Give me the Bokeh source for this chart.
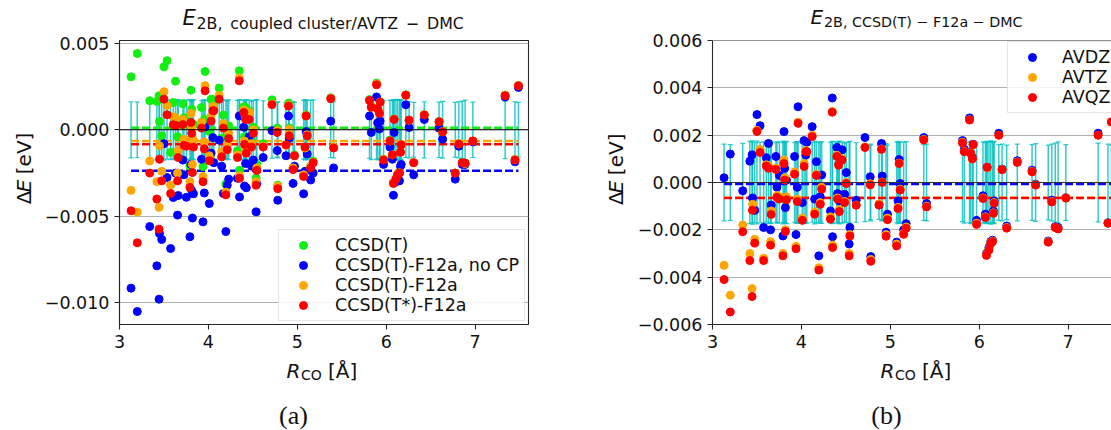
from math import pi
from bokeh.plotting import figure
from bokeh.models import (Range1d, FixedTicker, CustomJSTickFormatter, Span,
                          Legend, LegendItem)
from bokeh.core.properties import value
from bokeh.layouts import row, column
from bokeh.embed import file_html
from bokeh.resources import INLINE

# ---------------- data (energies in meV, converted to eV below) ----------------
R_CO = [3.13, 3.20, 3.34, 3.42, 3.445, 3.45, 3.475, 3.50, 3.535, 3.575,
        3.605, 3.63, 3.653, 3.66, 3.713, 3.725, 3.752, 3.792, 3.804, 3.812,
        3.82, 3.832, 3.923, 3.939, 3.954, 3.962, 4.01, 4.03, 4.05, 4.061,
        4.121, 4.149, 4.168, 4.196, 4.212, 4.228, 4.327, 4.347, 4.35, 4.398,
        4.406, 4.418, 4.426, 4.458, 4.485, 4.505, 4.537, 4.545, 4.616, 4.715,
        4.774, 4.78, 4.873, 4.901, 4.909, 4.952, 4.968, 5.071, 5.087, 5.099,
        5.111, 5.15, 5.178, 5.376, 5.408, 5.812, 5.832, 5.891, 5.903, 5.923,
        5.931, 5.97, 6.042, 6.069, 6.081, 6.089, 6.109, 6.129, 6.149, 6.16,
        6.168, 6.22, 6.257, 6.309, 6.428, 6.594, 6.634, 6.776, 6.816, 6.855,
        6.887, 6.974, 7.337, 7.448, 7.487]

dmc_err_meV = [1.62, 1.60, 1.65, 1.74, 1.70, 1.76, 1.68, 1.75, 1.70, 1.72,
               1.66, 1.73, 1.70, 1.74, 1.68, 1.72, 1.71, 1.75, 1.66, 1.72,
               1.70, 1.74, 1.68, 1.72, 1.73, 1.70, 1.66, 1.74, 1.70, 1.72,
               1.68, 1.75, 1.70, 1.72, 1.66, 1.73, 1.70, 1.72, 1.74, 1.68,
               1.72, 1.70, 1.75, 1.72, 1.66, 1.70, 1.72, 1.74, 1.68, 1.65,
               1.58, 1.62, 1.56, 1.62, 1.60, 1.64, 1.58, 1.70, 1.74, 1.68,
               1.72, 1.70, 1.73, 1.60, 1.62, 1.65, 1.72, 1.70, 1.74, 1.68,
               1.73, 1.70, 1.72, 1.68, 1.74, 1.70, 1.73, 1.76, 1.72, 1.70,
               1.74, 1.60, 1.62, 1.58, 1.62, 1.60, 1.64, 1.58, 1.62, 1.66,
               1.72, 1.60, 1.66, 1.62, 1.58]

ccsdt_avtz_meV = [3.06, 4.41, 1.68, 1.64, 1.97, 0.48, -0.35, 3.64, 3.99, -1.31,
                  1.58, 2.81, -0.4, 0.5, 1.5, 0.7, 0.5, -2.1, 2.29, 1.19,
                  -0.5, 0.3, 1.29, -2.12, 0.6, 3.37, -0.1, 1.77, 1.75, 1.5,
                  2.41, -0.5, 0.85, -3.14, -0.3, 0.23, -1.21, 3.41, -2.33, 1.33,
                  -0.4, 1.29, -0.9, 1.1, -0.6, 0.15, -2.79, -2.0, -0.8, 1.73,
                  0.1, -3.2, -0.85, 1.54, 0.1, -2.2, -1.45, -2.6, -1.0, 0.85,
                  -0.25, -2.1, -1.8, 1.85, -1.0, 1.75, 1.35, 2.7, 1.25, 1.0,
                  1.6, -1.7, -0.6, -1.45, -3.05, 0.62, -2.82, -2.55, -2.48, -1.28,
                  -0.85, 2.02, 0.55, -1.9, 0.88, 0.48, -0.1, -2.5, -0.8, -1.9,
                  -1.95, -0.65, 2.0, -1.72, 2.56]

f12a_nocp_meV = [-9.15, -10.5, -5.59, -7.86, -9.79, -5.99, -6.34, -0.8, -2.76, -6.86,
                 -3.91, -2.5, -4.93, -3.8, -1.75, -2.6, -3.9, -6.18, -2.0, -3.5,
                 -5.1, -3.7, -1.7, -5.32, -3.65, 0.17, -4.26, -1.35, -0.45, -1.9,
                 -0.6, -2.1, -3.68, -5.88, -3.2, -2.85, -2.8, 0.8, -3.88, 0.15,
                 -3.25, -1.95, -3.35, -0.4, -2.1, -1.75, -4.74, -3.1, -1.6, -0.05,
                 -1.2, -4.07, -1.5, 0.8, -0.5, -3.1, -2.1, -3.7, -2.4, -0.1,
                 -1.4, -2.9, -2.5, 0.5, -2.2, 0.8, -0.15, 1.9, 0.4, 0.05,
                 0.5, -2.0, -1.0, -1.7, -3.78, -0.15, -3.0, -2.9, -2.95, -2.1,
                 -2.0, 1.45, 0.13, -2.6, 0.6, 0.1, -0.54, -2.85, -0.95, -2.0,
                 -2.0, -0.7, 1.9, -1.85, 2.45]

f12a_avtz_meV = [-3.5, -4.76, -1.8, -3.0, -4.48, -0.92, -2.4, 2.2, 1.4, -3.2,
                 0.75, 0.7, -2.5, -1.2, 0.6, -0.55, -0.6, -3.0, 0.95, 0.2,
                 -2.0, -0.6, 0.45, -2.7, -0.7, 2.55, -1.5, 0.8, 1.35, 1.3,
                 2.0, -1.25, 0.35, -3.6, -0.85, -0.2, -1.45, 3.0, -2.65, 1.15,
                 -0.65, 0.75, -1.15, 1.0, -0.8, 0.0, -3.0, -2.2, -0.95, 1.5,
                 -0.05, -3.25, -0.9, 1.42, 0.02, -2.2, -1.5, -2.6, -1.05, 0.82,
                 -0.28, -2.15, -1.88, 1.82, -1.0, 1.7, 1.32, 2.65, 1.25, 1.0,
                 1.6, -1.72, -0.65, -1.45, -3.05, 0.62, -2.82, -2.55, -2.48, -1.28,
                 -0.85, 2.0, 0.55, -1.9, 0.87, 0.47, -0.1, -2.5, -0.8, -1.9,
                 -1.95, -0.65, 2.0, -1.72, 2.56]

f12a_tstar_meV = [-4.68, -6.53, -2.5, -4.0, -5.74, -1.7, -2.95, 1.77, 0.87, -3.68,
                  0.29, 0.25, -2.95, -1.6, 0.3, -0.9, -0.95, -3.33, 0.42, -0.2,
                  -2.47, -1.0, 0.1, -3.0, -1.1, 2.25, -1.79, 0.5, 1.1, 1.1,
                  1.77, -1.56, 0.1, -3.76, -1.15, -0.5, -1.6, 2.83, -2.8, 1.0,
                  -0.85, 0.6, -1.35, 0.6, -1.0, -0.2, -3.2, -2.35, -1.0, 1.45,
                  -0.15, -3.4, -0.87, 1.37, -0.35, -2.3, -1.5, -2.7, -1.0, 0.8,
                  -0.35, -2.2, -1.9, 1.8, -1.05, 1.7, 1.3, 2.6, 1.2, 0.95,
                  1.6, -1.75, -0.64, -1.45, -3.1, 0.6, -2.85, -2.6, -2.5, -1.3,
                  -0.87, 2.0, 0.56, -1.9, 0.85, 0.46, -0.12, -2.5, -0.83, -1.9,
                  -1.92, -0.64, 1.97, -1.75, 2.54]

f12a_avdz_meV = [0.2, 1.2, -0.35, 0.9, 1.17, -0.65, -1.17, 2.87, 2.4, -1.9,
                 1.05, 1.65, -2.0, -0.95, 1.1, -0.2, 0.3, -2.26, 2.15, 0.6,
                 -1.06, 0.1, 1.1, -2.2, -0.2, 3.2, -0.85, 1.77, 1.16, 1.7,
                 2.36, -0.7, 0.88, -3.1, -0.6, 0.32, -1.2, 3.57, -2.29, 1.48,
                 -0.47, 0.78, -0.78, 1.38, -0.5, 0.42, -2.6, -1.9, -0.75, 1.9,
                 0.24, -3.13, -0.95, 1.65, 0.27, -2.1, -1.34, -2.52, -0.78, 0.97,
                 -0.04, -2.0, -1.74, 1.9, -0.89, 1.77, 1.4, 2.73, 1.27, 1.06,
                 1.62, -1.6, -0.56, -1.34, -3.0, 0.64, -2.75, -2.5, -2.44, -1.2,
                 -0.78, 2.08, 0.57, -1.84, 0.92, 0.52, -0.07, -2.47, -0.75, -1.87,
                 -1.9, -0.64, 2.08, -1.7, 2.56]

f12a_avqz_meV = [-4.1, -5.47, -2.08, -3.3, -4.82, -1.17, -2.56, 2.16, 1.27, -3.3,
                 0.7, 0.6, -2.65, -1.35, 0.55, -0.63, -0.7, -3.1, 0.8, 0.1,
                 -2.07, -0.73, 0.35, -2.8, -0.8, 2.5, -1.6, 0.68, 1.3, 1.3,
                 1.94, -1.34, 0.3, -3.7, -0.92, -0.28, -1.55, 2.97, -2.75, 1.1,
                 -0.7, 0.73, -1.23, 0.95, -0.85, -0.04, -3.1, -2.26, -0.96, 1.48,
                 -0.1, -3.33, -0.95, 1.4, 0.0, -2.27, -1.57, -2.68, -1.1, 0.8,
                 -0.32, -2.19, -1.93, 1.8, -1.03, 1.67, 1.3, 2.64, 1.23, 1.0,
                 1.6, -1.77, -0.68, -1.48, -3.08, 0.64, -2.85, -2.58, -2.5, -1.3,
                 -0.88, 2.0, 0.54, -1.93, 0.85, 0.45, -0.11, -2.52, -0.82, -1.9,
                 -1.96, -0.66, 2.0, -1.72, 2.56]

# mean deviations (dashed lines), meV
left_labels = ["CCSD(T)", "CCSD(T)-F12a, no CP", "CCSD(T)-F12a", "CCSD(T*)-F12a"]
left_means_meV = [0.12, -2.37, -0.64, -0.83]
right_labels = ["AVDZ", "AVTZ", "AVQZ"]
right_means_meV = [-0.06, -0.64, -0.66]

x_ticks = [3, 4, 5, 6, 7]
left_y_ticks = [-0.010, -0.005, 0.0, 0.005]
right_y_ticks = [-0.006, -0.004, -0.002, 0.0, 0.002, 0.004, 0.006]

GREEN, BLUE, ORANGE, RED = "#11ee11", "#0000ff", "#ffa500", "#ff0000"
ERRC = "#00bfbf"
SPINE = "#262626"
FONT = "DejaVu Sans"
TXT = "#111111"


def ev(a):
    return [v * 1e-3 for v in a]


err = ev(dmc_err_meV)
neg_err = [-e for e in err]

# ---------------- layout geometry (page pixels) ----------------
PAGE_W, PAGE_H = 1111, 430
W1 = 560
W2 = PAGE_W - W1
FRAME_TOP, FRAME_H = 40, 284      # frame spans page y 40 .. 324
BELOW = 34                         # x-axis area under the frame
BOT_H = PAGE_H - FRAME_TOP - FRAME_H - BELOW
T1, T2 = 32, 30                    # title strip heights (rest of the 40 px is tick-label room)
YS1, YS2 = 36, 70                  # y-label strip widths
L_FRAME_LEFT, L_FRAME_W = 119, 409
R_FRAME_LEFT = 712
L_Y0, L_Y1 = -0.01125, 0.00516
R_Y0, R_Y1 = -0.006, 0.006
R_XEND = 3 + (PAGE_W - R_FRAME_LEFT) * 4.6 / L_FRAME_W

fmt = CustomJSTickFormatter(code="""
const s = Math.abs(tick).toFixed(3);
return (tick < -1e-12 ? '\u2212' : '') + s;
""")


def make_fig(width, top_h, bl, br, x_end, y0, y1, yticks):
    height = PAGE_H - top_h - BOT_H
    p = figure(width=width, height=height, output_backend="svg", toolbar_location=None,
               x_range=Range1d(3, x_end), y_range=Range1d(y0, y1),
               min_border_left=bl, min_border_right=br,
               min_border_top=FRAME_TOP - top_h, min_border_bottom=BELOW)
    if p.title is not None:
        p.title.visible = False
    p.background_fill_color = "white"
    p.border_fill_color = "white"
    p.xgrid.visible = False
    p.ygrid.grid_line_color = "#b0b0b0"
    p.ygrid.grid_line_width = 1
    p.xaxis.ticker = FixedTicker(ticks=x_ticks)
    p.yaxis.ticker = FixedTicker(ticks=yticks)
    p.yaxis.formatter = fmt
    for ax in (p.xaxis[0], p.yaxis[0]):
        ax.axis_line_color = SPINE
        ax.axis_line_width = 1.1
        ax.major_tick_line_color = SPINE
        ax.major_tick_line_width = 1.1
        ax.major_tick_out = 5
        ax.major_tick_in = 0
        ax.minor_tick_line_color = None
        ax.major_label_text_font = FONT
        ax.major_label_text_font_size = "17.5px"
        ax.major_label_text_color = TXT
        ax.major_label_standoff = 5
    return p


ORIGINS = {}


def strip(w, h, page_x, page_y):
    s = figure(width=w, height=h, output_backend="svg", toolbar_location=None,
               x_range=Range1d(0, w), y_range=Range1d(0, h),
               x_axis_type=None, y_axis_type=None, min_border=0)
    if s.title is not None:
        s.title.visible = False
    s.outline_line_color = None
    s.background_fill_color = "white"
    s.border_fill_color = "white"
    ORIGINS[s.id] = (page_x, page_y, h)
    return s


def put(s, px, py, text, size, style="normal", align="left", angle=0.0, font=FONT):
    """Place a text whose vertical middle sits at page pixel (px, py)."""
    ox, oy, h = ORIGINS[s.id]
    s.text(x=[px - ox], y=[h - (py - oy)], text=[text], text_font=value(font),
           text_font_size=value(size), text_font_style=value(style),
           text_align=value(align), text_baseline=value("middle"),
           angle=angle, text_color=TXT)


def errorbars(p):
    p.segment(x0=R_CO, y0=neg_err, x1=R_CO, y1=err, line_color=ERRC,
              line_alpha=0.8, line_width=1.5)
    p.scatter(x=R_CO + R_CO, y=err + neg_err, marker="dash", size=5,
              line_color=ERRC, line_alpha=0.8, line_width=1.2)


def zero_line(p, color):
    p.add_layout(Span(location=0, dimension="width", line_color=color,
                      line_width=1.1, level="glyph"))


def legend(items, location, margin, standoff):
    return Legend(items=items, location=location, margin=margin, padding=5, spacing=0,
                  label_height=20, glyph_height=20, glyph_width=38,
                  label_standoff=standoff,
                  label_text_font=FONT, label_text_font_size="17.5px",
                  label_text_color=TXT,
                  border_line_color="#cccccc", border_line_width=1,
                  background_fill_color="white", background_fill_alpha=0.85)


# ======================= left panel =======================
p1 = make_fig(W1 - YS1, T1, L_FRAME_LEFT - YS1, W1 - L_FRAME_LEFT - L_FRAME_W, 7.6,
              L_Y0, L_Y1, left_y_ticks)
p1.outline_line_color = SPINE
p1.outline_line_width = 1.1
errorbars(p1)
zero_line(p1, "black")
left_series = [ccsdt_avtz_meV, f12a_nocp_meV, f12a_avtz_meV, f12a_tstar_meV]
left_colors = [GREEN, BLUE, ORANGE, RED]
for m, c in zip(left_means_meV, left_colors):
    p1.line(x=[R_CO[0], R_CO[-1]], y=[m * 1e-3, m * 1e-3], line_color=c,
            line_width=2.5, line_dash="8 3")
items = []
for s, c, lab in zip(left_series, left_colors, left_labels):
    r = p1.scatter(x=R_CO, y=ev(s), size=8, fill_color=c, line_color=c)
    items.append(LegendItem(label=lab, renderers=[r]))
p1.add_layout(legend(items, "bottom_right", 3, 13))

t1 = strip(W1, T1, 0, 0)
put(t1, 182, 17.9, "E", "21px", style="italic")
put(t1, 196, 22.6, "2B,\u2002coupled cluster/AVTZ\u2002\u2212\u2002DMC", "15.8px")

y1s = strip(YS1, PAGE_H - T1 - BOT_H, 0, T1)
put(y1s, 23.6, 220, "\u0394", "20px", angle=pi / 2)
put(y1s, 23.6, 206.3, "E", "20px", style="italic", angle=pi / 2)
put(y1s, 23.6, 185.5, "[eV]", "20px", angle=pi / 2)

b1 = strip(W1, BOT_H, 0, PAGE_H - BOT_H)
put(b1, 286, 370, "R", "20px", style="italic")
put(b1, 300.5, 374.5, "CO", "14px")
put(b1, 327.5, 370, "[\u00c5]", "20px")
put(b1, 293, 415, "(a)", "26px", align="center", font="Liberation Serif")

# ======================= right panel =======================
p2 = make_fig(W2 - YS2, T2, R_FRAME_LEFT - W1 - YS2, 0, R_XEND, R_Y0, R_Y1, right_y_ticks)
p2.outline_line_color = None
p2.add_layout(Span(location=R_Y1, dimension="width", line_color=SPINE, line_width=1.1))
errorbars(p2)
zero_line(p2, "#333333")
right_series = [f12a_avdz_meV, f12a_avtz_meV, f12a_avqz_meV]
right_colors = [BLUE, ORANGE, RED]
for m, c in zip(right_means_meV, right_colors):
    p2.line(x=[R_CO[0], R_CO[-1]], y=[m * 1e-3, m * 1e-3], line_color=c,
            line_width=2.5, line_dash="8 3")
items2 = []
for s, c, lab in zip(right_series, right_colors, right_labels):
    r = p2.scatter(x=R_CO, y=ev(s), size=8, fill_color=c, line_color=c)
    items2.append(LegendItem(label=lab, renderers=[r]))
p2.add_layout(legend(items2, (1007 - R_FRAME_LEFT, 324 - 113), 0, 11))

t2 = strip(W2, T2, W1, 0)
put(t2, 810, 16.8, "E", "20px", style="italic")
put(t2, 823.5, 21.5, "2B, CCSD(T) \u2212 F12a \u2212 DMC", "14.3px")

y2s = strip(YS2, PAGE_H - T2 - BOT_H, W1, T2)
put(y2s, 615.4, 220, "\u0394", "20px", angle=pi / 2)
put(y2s, 615.4, 206.3, "E", "20px", style="italic", angle=pi / 2)
put(y2s, 615.4, 185.5, "[eV]", "20px", angle=pi / 2)

b2 = strip(W2, BOT_H, W1, PAGE_H - BOT_H)
put(b2, 880, 370, "R", "20px", style="italic")
put(b2, 894.5, 374.5, "CO", "14px")
put(b2, 921.5, 370, "[\u00c5]", "20px")
put(b2, 886, 415, "(b)", "26px", align="center", font="Liberation Serif")

layout = row(column(t1, row(y1s, p1), b1), column(t2, row(y2s, p2), b2))
open("out.html", "w").write(file_html(layout, INLINE))
